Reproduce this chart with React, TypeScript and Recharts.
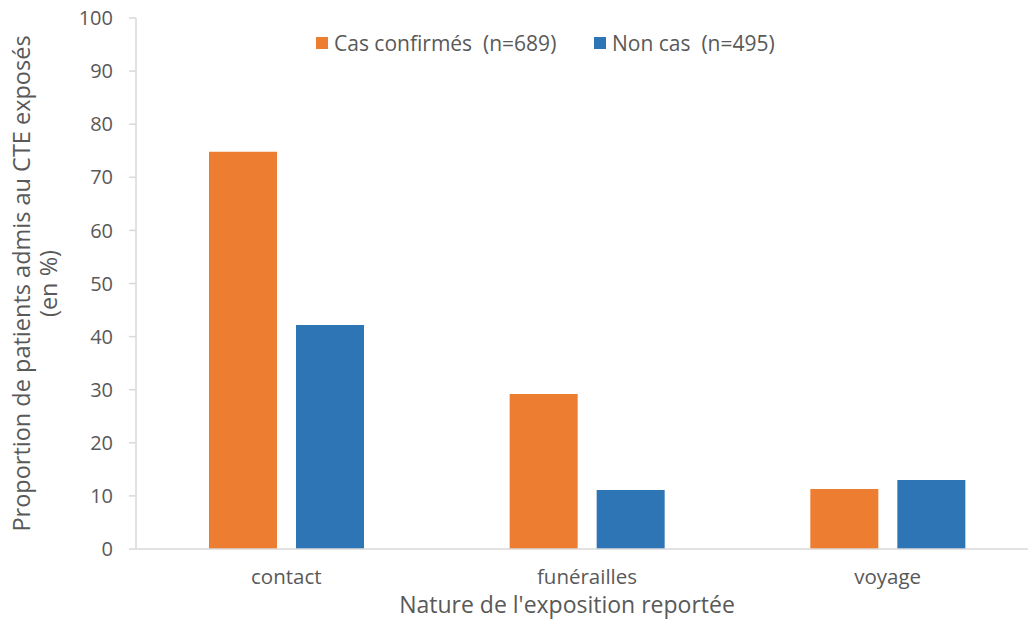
import { Bar, BarChart, XAxis, YAxis } from "recharts";

const categories = ["contact", "funérailles", "voyage"];
const casConfirmes = [74.8, 29.2, 11.3];
const nonCas = [42.2, 11.1, 13.0];
const yTicks = [0, 10, 20, 30, 40, 50, 60, 70, 80, 90, 100];

const seriesNames = ["Cas confirmés  (n=689)", "Non cas  (n=495)"];
const colors = ["#ED7D31", "#2E75B6"];

const data = categories.map((c, i) => ({
  name: c,
  cas: casConfirmes[i],
  non: nonCas[i],
}));

const font = "'Open Sans', sans-serif";
const textColor = "#595959";
const axisColor = "#d9d9d9";

function YTitle(props: any) {
  const vb = props.viewBox;
  const cy = vb.y + vb.height / 2;
  return (
    <g fill={textColor} fontFamily={font} fontSize={23.5}>
      <text x={30} y={cy} textAnchor="middle" transform={`rotate(-90 30 ${cy})`}>
        Proportion de patients admis au CTE exposés
      </text>
      <text x={57} y={cy} textAnchor="middle" transform={`rotate(-90 57 ${cy})`}>
        (en %)
      </text>
    </g>
  );
}

const legendLeft = [316, 594];

export default function App() {
  return (
    <div
      style={{
        position: "absolute",
        left: 0,
        top: 0,
        width: 1028,
        height: 620,
        overflow: "hidden",
        background: "#fff",
      }}
    >
      <BarChart
        width={1040}
        height={620}
        data={data}
        margin={{ top: 18, right: 2, bottom: 41, left: 0 }}
        barSize={68}
        barGap={19}
      >
        <XAxis
          dataKey="name"
          axisLine={{ stroke: axisColor, strokeWidth: 1.5 }}
          tickLine={false}
          tickMargin={14}
          tick={{ fill: textColor, fontFamily: font, fontSize: 20.5 }}
          label={{
            value: "Nature de l'exposition reportée",
            position: "insideBottom",
            offset: -34,
            fill: textColor,
            fontFamily: font,
            fontSize: 23,
            dx: -20,
          }}
        />
        <YAxis
          width={136}
          domain={[0, 100]}
          ticks={yTicks}
          interval={0}
          axisLine={{ stroke: axisColor, strokeWidth: 1.5 }}
          tickLine={{ stroke: axisColor, strokeWidth: 1.5 }}
          tickSize={7}
          tickMargin={16}
          tick={{ fill: textColor, fontFamily: font, fontSize: 20 }}
          label={<YTitle />}
        />
        <Bar dataKey="cas" name={seriesNames[0]} fill={colors[0]} isAnimationActive={false} />
        <Bar dataKey="non" name={seriesNames[1]} fill={colors[1]} isAnimationActive={false} />
      </BarChart>
      {seriesNames.map((n, i) => (
        <div
          key={n}
          style={{
            position: "absolute",
            left: legendLeft[i],
            top: 29,
            display: "flex",
            alignItems: "center",
            fontFamily: font,
            fontSize: 21,
            color: textColor,
          }}
        >
          <span style={{ width: 12, height: 12, background: colors[i], marginRight: 6 }} />
          <span style={{ whiteSpace: "pre" }}>{n}</span>
        </div>
      ))}
    </div>
  );
}
